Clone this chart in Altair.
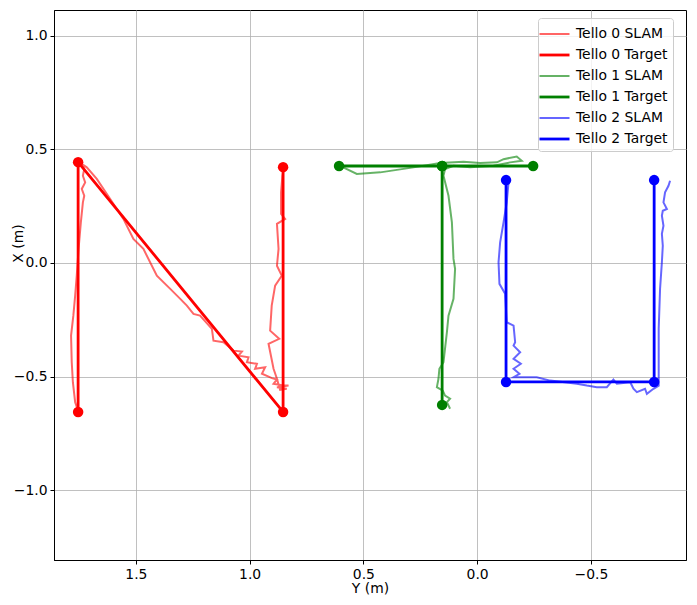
import altair as alt
import pandas as pd

# ---- data (Y is horizontal axis, X vertical) ----
series_names = ["Tello 0 SLAM", "Tello 0 Target", "Tello 1 SLAM",
                "Tello 1 Target", "Tello 2 SLAM", "Tello 2 Target"]
series_colors = ["#ff0000", "#ff0000", "#008000", "#008000", "#0000ff", "#0000ff"]
series_opacity = [0.6, 1, 0.6, 1, 0.6, 1]
series_width = [2, 2.8, 2, 2.8, 2, 2.8]

t0_target_y = [1.754, 1.754, 0.853, 0.853]
t0_target_x = [-0.656, 0.444, -0.656, 0.422]

t1_target_y = [0.607, 0.154, -0.246, 0.154, 0.154]
t1_target_x = [0.427, 0.427, 0.427, 0.427, -0.625]

t2_target_y = [-0.127, -0.127, -0.778, -0.778]
t2_target_x = [0.365, -0.524, -0.524, 0.365]

t0_slam_y = [1.752, 1.767, 1.777, 1.782, 1.785, 1.775, 1.767, 1.760, 1.752, 1.742,
             1.733, 1.727, 1.738, 1.723, 1.733, 1.727, 1.738, 1.716, 1.672, 1.613,
             1.555, 1.511, 1.467, 1.408, 1.349, 1.305, 1.276, 1.247, 1.218, 1.166,
             1.159, 1.115, 1.071, 1.034, 1.049, 1.005, 1.012, 0.968, 0.976, 0.932,
             0.946, 0.902, 0.880, 0.895, 0.851, 0.829, 0.880, 0.837, 0.866, 0.880,
             0.895, 0.917, 0.870, 0.910, 0.903, 0.888, 0.859, 0.880, 0.873, 0.880,
             0.844, 0.862, 0.862, 0.856, 0.851]
t0_slam_x = [-0.657, -0.613, -0.525, -0.437, -0.320, -0.232, -0.144, -0.056, 0.062, 0.179,
             0.267, 0.296, 0.326, 0.355, 0.384, 0.414, 0.436, 0.421, 0.370, 0.282,
             0.194, 0.106, 0.062, -0.056, -0.114, -0.158, -0.188, -0.224, -0.232, -0.290,
             -0.342, -0.349, -0.386, -0.390, -0.408, -0.415, -0.437, -0.444, -0.466, -0.459,
             -0.488, -0.507, -0.513, -0.532, -0.540, -0.540, -0.547, -0.554, -0.559, -0.510,
             -0.466, -0.356, -0.334, -0.298, -0.188, -0.100, -0.056, -0.012, 0.062, 0.172,
             0.194, 0.216, 0.311, 0.384, 0.414]

t1_slam_y = [0.602, 0.529, 0.426, 0.280, 0.163, 0.060, -0.013, -0.087, -0.116, -0.174,
             -0.196, -0.145, -0.072, 0.031, 0.104, 0.141, 0.148, 0.126, 0.111, 0.104,
             0.097, 0.104, 0.126, 0.133, 0.148, 0.166, 0.170, 0.177, 0.151, 0.141,
             0.119, 0.133, 0.119]
t1_slam_x = [0.428, 0.392, 0.399, 0.421, 0.440, 0.446, 0.440, 0.443, 0.457, 0.469,
             0.450, 0.443, 0.428, 0.421, 0.428, 0.414, 0.384, 0.296, 0.179, 0.018,
             -0.026, -0.158, -0.232, -0.305, -0.437, -0.466, -0.510, -0.547, -0.562, -0.584,
             -0.598, -0.613, -0.642]

t2_slam_y = [-0.138, -0.130, -0.116, -0.101, -0.094, -0.098, -0.123, -0.130, -0.160, -0.167,
             -0.160, -0.189, -0.160, -0.192, -0.160, -0.186, -0.160, -0.262, -0.321, -0.438,
             -0.482, -0.526, -0.570, -0.599, -0.614, -0.673, -0.687, -0.702, -0.738, -0.746,
             -0.775, -0.798, -0.798, -0.798, -0.804, -0.812, -0.816, -0.812, -0.819, -0.812,
             -0.816, -0.834, -0.819, -0.826, -0.841, -0.848]
t2_slam_x = [0.355, 0.267, 0.179, 0.091, 0.003, -0.092, -0.136, -0.261, -0.276, -0.349,
             -0.364, -0.393, -0.422, -0.444, -0.466, -0.488, -0.503, -0.503, -0.518, -0.532,
             -0.540, -0.547, -0.547, -0.513, -0.532, -0.525, -0.554, -0.569, -0.554, -0.576,
             -0.554, -0.540, -0.466, -0.290, -0.114, 0.003, 0.076, 0.128, 0.164, 0.208,
             0.230, 0.238, 0.267, 0.311, 0.340, 0.362]

x_ticks = [1.5, 1.0, 0.5, 0.0, -0.5]
y_ticks = [-1.0, -0.5, 0.0, 0.5, 1.0]

# ---- build tables ----
pairs = [
    (series_names[0], t0_slam_y, t0_slam_x),
    (series_names[1], t0_target_y, t0_target_x),
    (series_names[2], t1_slam_y, t1_slam_x),
    (series_names[3], t1_target_y, t1_target_x),
    (series_names[4], t2_slam_y, t2_slam_x),
    (series_names[5], t2_target_y, t2_target_x),
]
rows = []
for name, ys, xs in pairs:
    for i, (yv, xv) in enumerate(zip(ys, xs)):
        rows.append({"series": name, "Y": yv, "X": xv, "idx": i})
df = pd.DataFrame(rows)

pts = []
for k in (1, 3, 5):
    name, ys, xs = pairs[k]
    for yv, xv in zip(ys, xs):
        pts.append({"Y": yv, "X": xv, "col": series_colors[k]})
dfp = pd.DataFrame(pts)

xscale = alt.Scale(domain=[-0.918, 1.86], reverse=True, nice=False, zero=False)
yscale = alt.Scale(domain=[-1.308, 1.114], nice=False, zero=False)

xenc = alt.X("Y:Q", scale=xscale,
             axis=alt.Axis(title="Y (m)", values=x_ticks, format=".1f"))
yenc = alt.Y("X:Q", scale=yscale,
             axis=alt.Axis(title="X (m)", values=y_ticks, format=".1f",
                           titleX=-29, titleY=233, titleBaseline="bottom",
                           titleAngle=-90))

legend = alt.Legend(title=None, orient="none", legendX=484, legendY=8)

lines = alt.Chart(df).mark_line(clip=True).encode(
    x=xenc, y=yenc,
    color=alt.Color("series:N",
                    scale=alt.Scale(type="ordinal", domain=series_names, range=series_colors),
                    legend=legend),
    opacity=alt.Opacity("series:N",
                        scale=alt.Scale(type="ordinal", domain=series_names, range=series_opacity),
                        legend=legend),
    strokeWidth=alt.StrokeWidth("series:N",
                                scale=alt.Scale(type="ordinal", domain=series_names, range=series_width),
                                legend=legend),
    order="idx:Q",
)

points = alt.Chart(dfp).mark_circle(size=110, opacity=1).encode(
    x=alt.X("Y:Q", scale=xscale),
    y=alt.Y("X:Q", scale=yscale),
    color=alt.Color("col:N", scale=None),
)

chart = alt.layer(lines, points).properties(
    width=632, height=550,
    autosize=alt.AutoSizeParams(type="none"),
    padding={"left": 46, "top": 2, "right": 3, "bottom": 37},
).configure_view(
    stroke="black", strokeWidth=1
).configure_axis(
    grid=True, gridColor="#b0b0b0", gridWidth=0.8,
    domainColor="black", tickColor="black", tickSize=4,
    labelFontSize=13.9, titleFontSize=13.9, labelColor="black", titleColor="black",
    labelFont="DejaVu Sans", titleFont="DejaVu Sans", titleFontWeight="normal",
    labelPadding=3,
).configure_axisX(
    titlePadding=1
).configure_legend(
    padding=5,
    strokeColor="#cccccc", cornerRadius=3, fillColor="rgba(255,255,255,0.8)",
    labelFontSize=13.9, labelFont="DejaVu Sans", labelColor="black",
    symbolType="M-1.5,0L1.5,0", symbolSize=400, rowPadding=2.5, labelOffset=10,
)

chart.save("out.html", embed_options={"renderer": "svg", "actions": False})
